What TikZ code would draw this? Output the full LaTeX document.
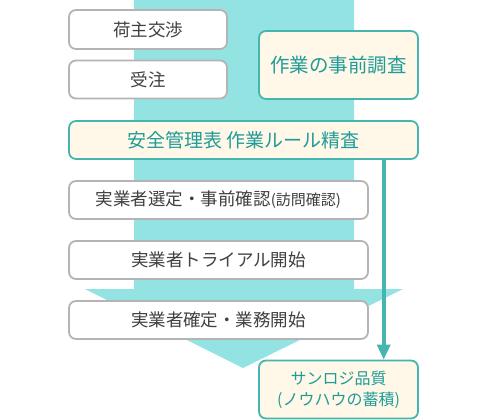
\documentclass[tikz,border=0pt]{standalone}
\usepackage{fontspec}
\setmainfont{Noto Sans CJK JP}
\usetikzlibrary{arrows.meta}
\definecolor{flowc}{HTML}{94E3E3}
\definecolor{grayb}{HTML}{B4B4B4}
\definecolor{tealb}{HTML}{45B5AE}
\definecolor{tealt}{HTML}{1F9C98}
\definecolor{creamf}{HTML}{FFF7E8}
\definecolor{textg}{HTML}{404040}
\tikzset{
  graybox/.style={draw=grayb, line width=1.8pt, fill=white, rounded corners=7pt, text=textg, font=\fontsize{17.5}{20}\selectfont, inner sep=0pt},
  tealbox/.style={draw=tealb, line width=1.8pt, fill=creamf, rounded corners=7pt, text=tealt, inner sep=0pt, align=center},
}
\begin{document}
\begin{tikzpicture}[x=1pt,y=-1pt]
\useasboundingbox (0,0) rectangle (480,420);
% big flow arrow
\fill[flowc] (134,0) -- (354,0) -- (354,289) -- (403,289) -- (243,368) -- (85,289) -- (134,289) -- cycle;
% gray boxes
\node[graybox, minimum width=158pt, minimum height=39pt] (a) at (148,29.5) {荷主交渉};
\node[graybox, minimum width=158pt, minimum height=38pt] (b) at (148,79.5) {受注};
\node[graybox, minimum width=299pt, minimum height=38pt] (d) at (218.5,200) {実業者選定・事前確認{\fontsize{15}{17}\selectfont (訪問確認)}};
\node[graybox, minimum width=299pt, minimum height=38pt] (e) at (218.5,260) {実業者トライアル開始};
\node[graybox, minimum width=299pt, minimum height=38pt] (f) at (218.5,320) {実業者確定・業務開始};
% teal boxes
\node[tealbox, minimum width=159pt, minimum height=68pt, font=\fontsize{19.5}{22}\selectfont] (s) at (338.5,65) {作業の事前調査};
\node[tealbox, minimum width=349pt, minimum height=38pt, font=\fontsize{19}{22}\selectfont] (c) at (243.5,140) {安全管理表 作業ルール精査};
\node[tealbox, minimum width=159pt, minimum height=58pt, font=\fontsize{16}{21}\selectfont] (q) at (338.5,389.5) {サンロジ品質\\(ノウハウの蓄積)};
% connector
\draw[tealb, line width=3.6pt, -{Triangle[length=15pt,width=13pt]}] (383.7,140 |- c.south) -- (383.7,140 |- q.north);
\end{tikzpicture}
\end{document}
